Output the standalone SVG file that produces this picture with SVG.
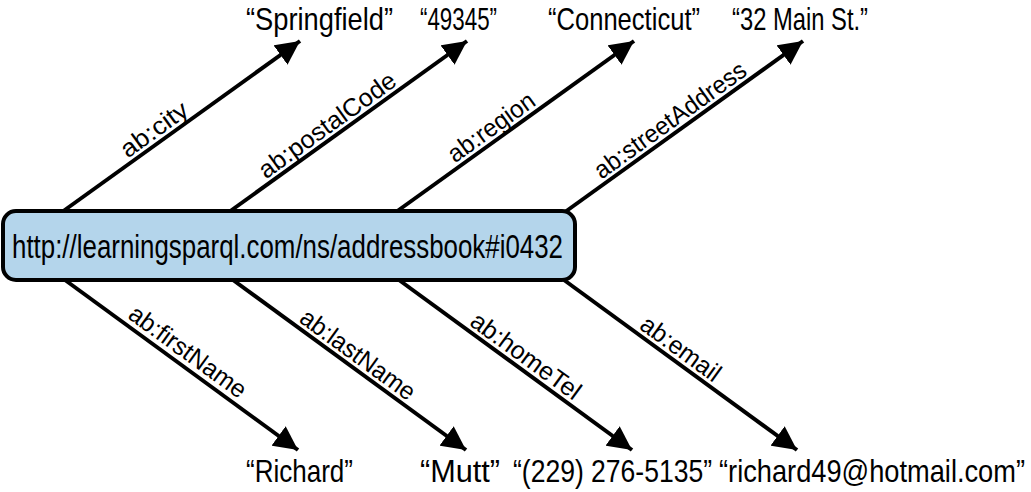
<svg xmlns="http://www.w3.org/2000/svg" width="1031" height="492" viewBox="0 0 1031 492">
<defs>
<marker id="ah" markerUnits="userSpaceOnUse" markerWidth="26" markerHeight="24" refX="24" refY="12" orient="auto">
<path d="M0,0 L24,12 L0,24 Z" fill="#000"/>
</marker>
<style>
.edge{stroke:#000;stroke-width:4;fill:none;marker-end:url(#ah)}
.val{font-family:"Liberation Sans",Arial,sans-serif;font-size:32px;fill:#000}
.lbl{font-family:"Liberation Sans",Arial,sans-serif;font-size:25px;fill:#000;text-anchor:middle}
.node{fill:#b4d5eb;stroke:#000;stroke-width:4}
.ntext{font-family:"Liberation Sans",Arial,sans-serif;font-size:34px;fill:#000}
</style>
</defs>
<rect width="1031" height="492" fill="#fff"/>
<g id="connectors">
<line class="edge" x1="62" y1="212" x2="300" y2="41"/>
<line class="edge" x1="229" y1="212" x2="467" y2="41"/>
<line class="edge" x1="396" y1="212" x2="634" y2="41"/>
<line class="edge" x1="565" y1="212" x2="803" y2="41"/>
<line class="edge" x1="65" y1="280" x2="298" y2="450"/>
<line class="edge" x1="233" y1="280" x2="466" y2="450"/>
<line class="edge" x1="399" y1="280" x2="632" y2="450"/>
<line class="edge" x1="564" y1="280" x2="797" y2="450"/>
<text class="lbl" transform="translate(162,140.3) rotate(-35.7)" y="-5" textLength="77" lengthAdjust="spacingAndGlyphs">ab:city</text>
<text class="lbl" transform="translate(335,136) rotate(-35.7)" y="-5" textLength="163" lengthAdjust="spacingAndGlyphs">ab:postalCode</text>
<text class="lbl" transform="translate(499,138) rotate(-35.7)" y="-5" textLength="101" lengthAdjust="spacingAndGlyphs">ab:region</text>
<text class="lbl" transform="translate(678,130.9) rotate(-35.7)" y="-5" textLength="181" lengthAdjust="spacingAndGlyphs">ab:streetAddress</text>
<text class="lbl" transform="translate(180,362.5) rotate(36.1)" y="-5" textLength="139" lengthAdjust="spacingAndGlyphs">ab:firstName</text>
<text class="lbl" transform="translate(350,365.4) rotate(36.1)" y="-5" textLength="136" lengthAdjust="spacingAndGlyphs">ab:lastName</text>
<text class="lbl" transform="translate(518,366.8) rotate(36.1)" y="-5" textLength="130" lengthAdjust="spacingAndGlyphs">ab:homeTel</text>
<text class="lbl" transform="translate(673,359.5) rotate(36.1)" y="-5" textLength="93" lengthAdjust="spacingAndGlyphs">ab:email</text>
</g>
<g id="subject">
<rect class="node" x="3" y="211" width="572" height="69" rx="13"/>
<text class="ntext" x="12" y="258" textLength="551" lengthAdjust="spacingAndGlyphs">http://learningsparql.com/ns/addressbook#i0432</text>
</g>
<g id="city"><text class="val" x="246" y="30" textLength="147" lengthAdjust="spacingAndGlyphs">“Springfield”</text></g>
<g id="postalCode"><text class="val" x="420" y="30" textLength="77" lengthAdjust="spacingAndGlyphs">“49345”</text></g>
<g id="region"><text class="val" x="548" y="30" textLength="152" lengthAdjust="spacingAndGlyphs">“Connecticut”</text></g>
<g id="streetAddress"><text class="val" x="732" y="30" textLength="136" lengthAdjust="spacingAndGlyphs">“32 Main St.”</text></g>
<g id="firstName"><text class="val" x="246" y="482" textLength="107" lengthAdjust="spacingAndGlyphs">“Richard”</text></g>
<g id="lastName"><text class="val" x="420" y="482" textLength="80" lengthAdjust="spacingAndGlyphs">“Mutt”</text></g>
<g id="homeTel"><text class="val" x="513" y="482" textLength="199" lengthAdjust="spacingAndGlyphs">“(229) 276-5135”</text></g>
<g id="email"><text class="val" x="719" y="482" textLength="306" lengthAdjust="spacingAndGlyphs">“richard49@hotmail.com”</text></g>
</svg>
